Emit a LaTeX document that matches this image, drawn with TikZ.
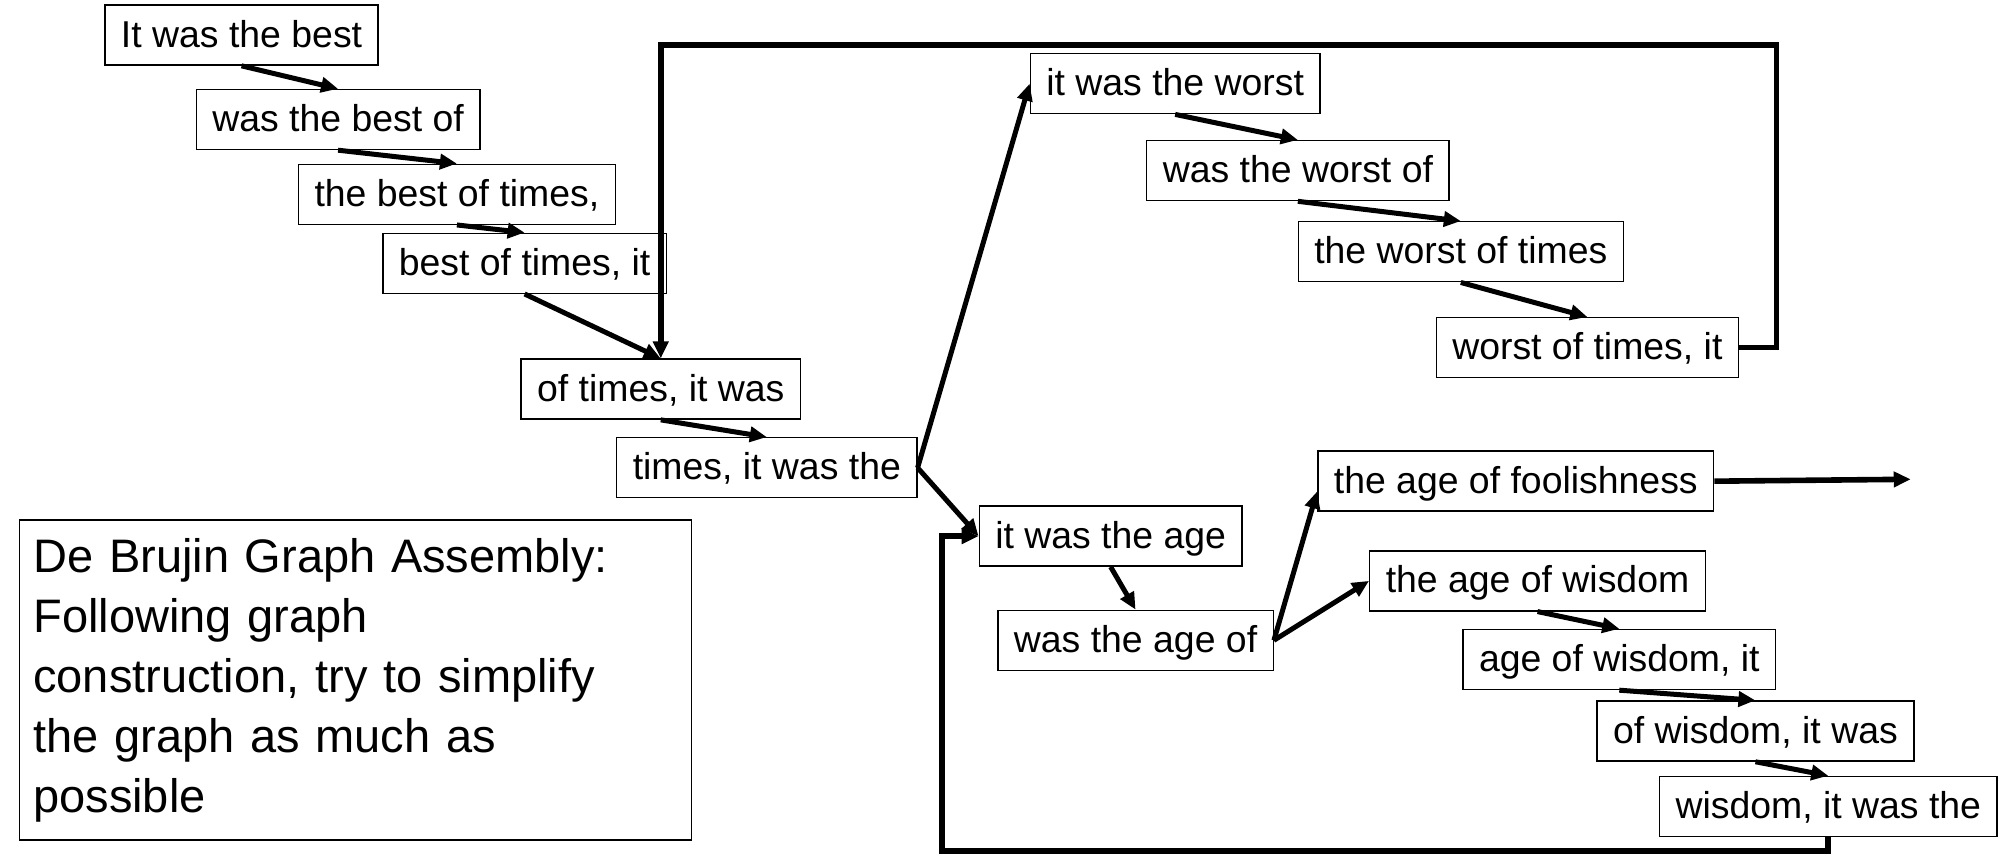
\documentclass[tikz,border=0pt]{standalone}
\usepackage{fontspec}
\setmainfont{Liberation Sans}
\usetikzlibrary{arrows.meta,calc}
\begin{document}
\begin{tikzpicture}[x=0.639pt,y=-0.639pt,
  kbox/.style={draw, line width=0.7pt, font=\fontsize{18.7}{22}\selectfont, inner xsep=8pt, inner ysep=6.25pt, text height=14.75pt, text depth=2.75pt},
  edge/.style={line width=2.5pt, -{Triangle[length=8.5pt,width=7.5pt]}},
  loopedge/.style={line width=2.8pt, -{Triangle[length=8.5pt,width=7.5pt]}},
  note/.style={draw, line width=0.7pt, font=\fontsize{23.5}{30}\selectfont, align=left, text width=322pt, minimum height=160pt, inner xsep=7pt}
]
\useasboundingbox (0,0) rectangle (1568,671);
\node[kbox] (A) at (189,27.5) {It was the best};
\node[kbox] (B) at (264.5,93.5) {was the best of};
\node[kbox] (C) at (357.5,152) {the best of times,};
\node[kbox] (D) at (410.5,206) {best of times, it};
\node[kbox] (E) at (517,304.5) {of times, it was};
\node[kbox] (F) at (600,366) {times, it was the};
\node[kbox] (G) at (919.5,65.5) {it was the worst};
\node[kbox] (H) at (1015.5,133.5) {was the worst of};
\node[kbox] (I) at (1143,197) {the worst of times};
\node[kbox] (J) at (1242,272) {worst of times, it};
\node[kbox] (K) at (1186,376.5) {the age of foolishness};
\node[kbox] (L) at (869,419.5) {it was the age};
\node[kbox] (M) at (888.5,501) {was the age of};
\node[kbox] (N) at (1203,454.5) {the age of wisdom};
\node[kbox] (O) at (1267,516) {age of wisdom, it};
\node[kbox] (P) at (1373.5,572) {of wisdom, it was};
\node[kbox] (Q) at (1430.5,631) {wisdom, it was the};
\node[note] (T) at (278,532) {De Brujin Graph Assembly:\\ Following graph\\ construction, try to simplify\\ the graph as much as\\ possible};
\coordinate (free) at (1495,375);
\coordinate (topR) at (1390,35);
\coordinate (botL) at (737,666);
\draw[edge] (A.south) -- (B.north);
\draw[edge] (B.south) -- (C.north);
\draw[edge] (C.south) -- (D.north);
\draw[edge] (D.south) -- (E.north);
\draw[edge] (E.south) -- (F.north);
\draw[edge] (G.south) -- (H.north);
\draw[edge] (H.south) -- (I.north);
\draw[edge] (I.south) -- (J.north);
\draw[edge] (L.south) -- (M.north);
\draw[edge] (N.south) -- (O.north);
\draw[edge] (O.south) -- (P.north);
\draw[edge] (P.south) -- (Q.north);
\draw[edge] (F.east) -- (G.west);
\draw[edge] (F.east) -- (L.west);
\draw[edge] (M.east) -- ($(K.west)+(0,8)$);
\draw[edge] (M.east) -- (N.west);
\draw[loopedge] (K.east) -- (free);
\draw[loopedge] (J.east) -| (topR) -| (E.north);
\draw[loopedge] (Q.south) |- (botL) |- (L.west);
\end{tikzpicture}
\end{document}
